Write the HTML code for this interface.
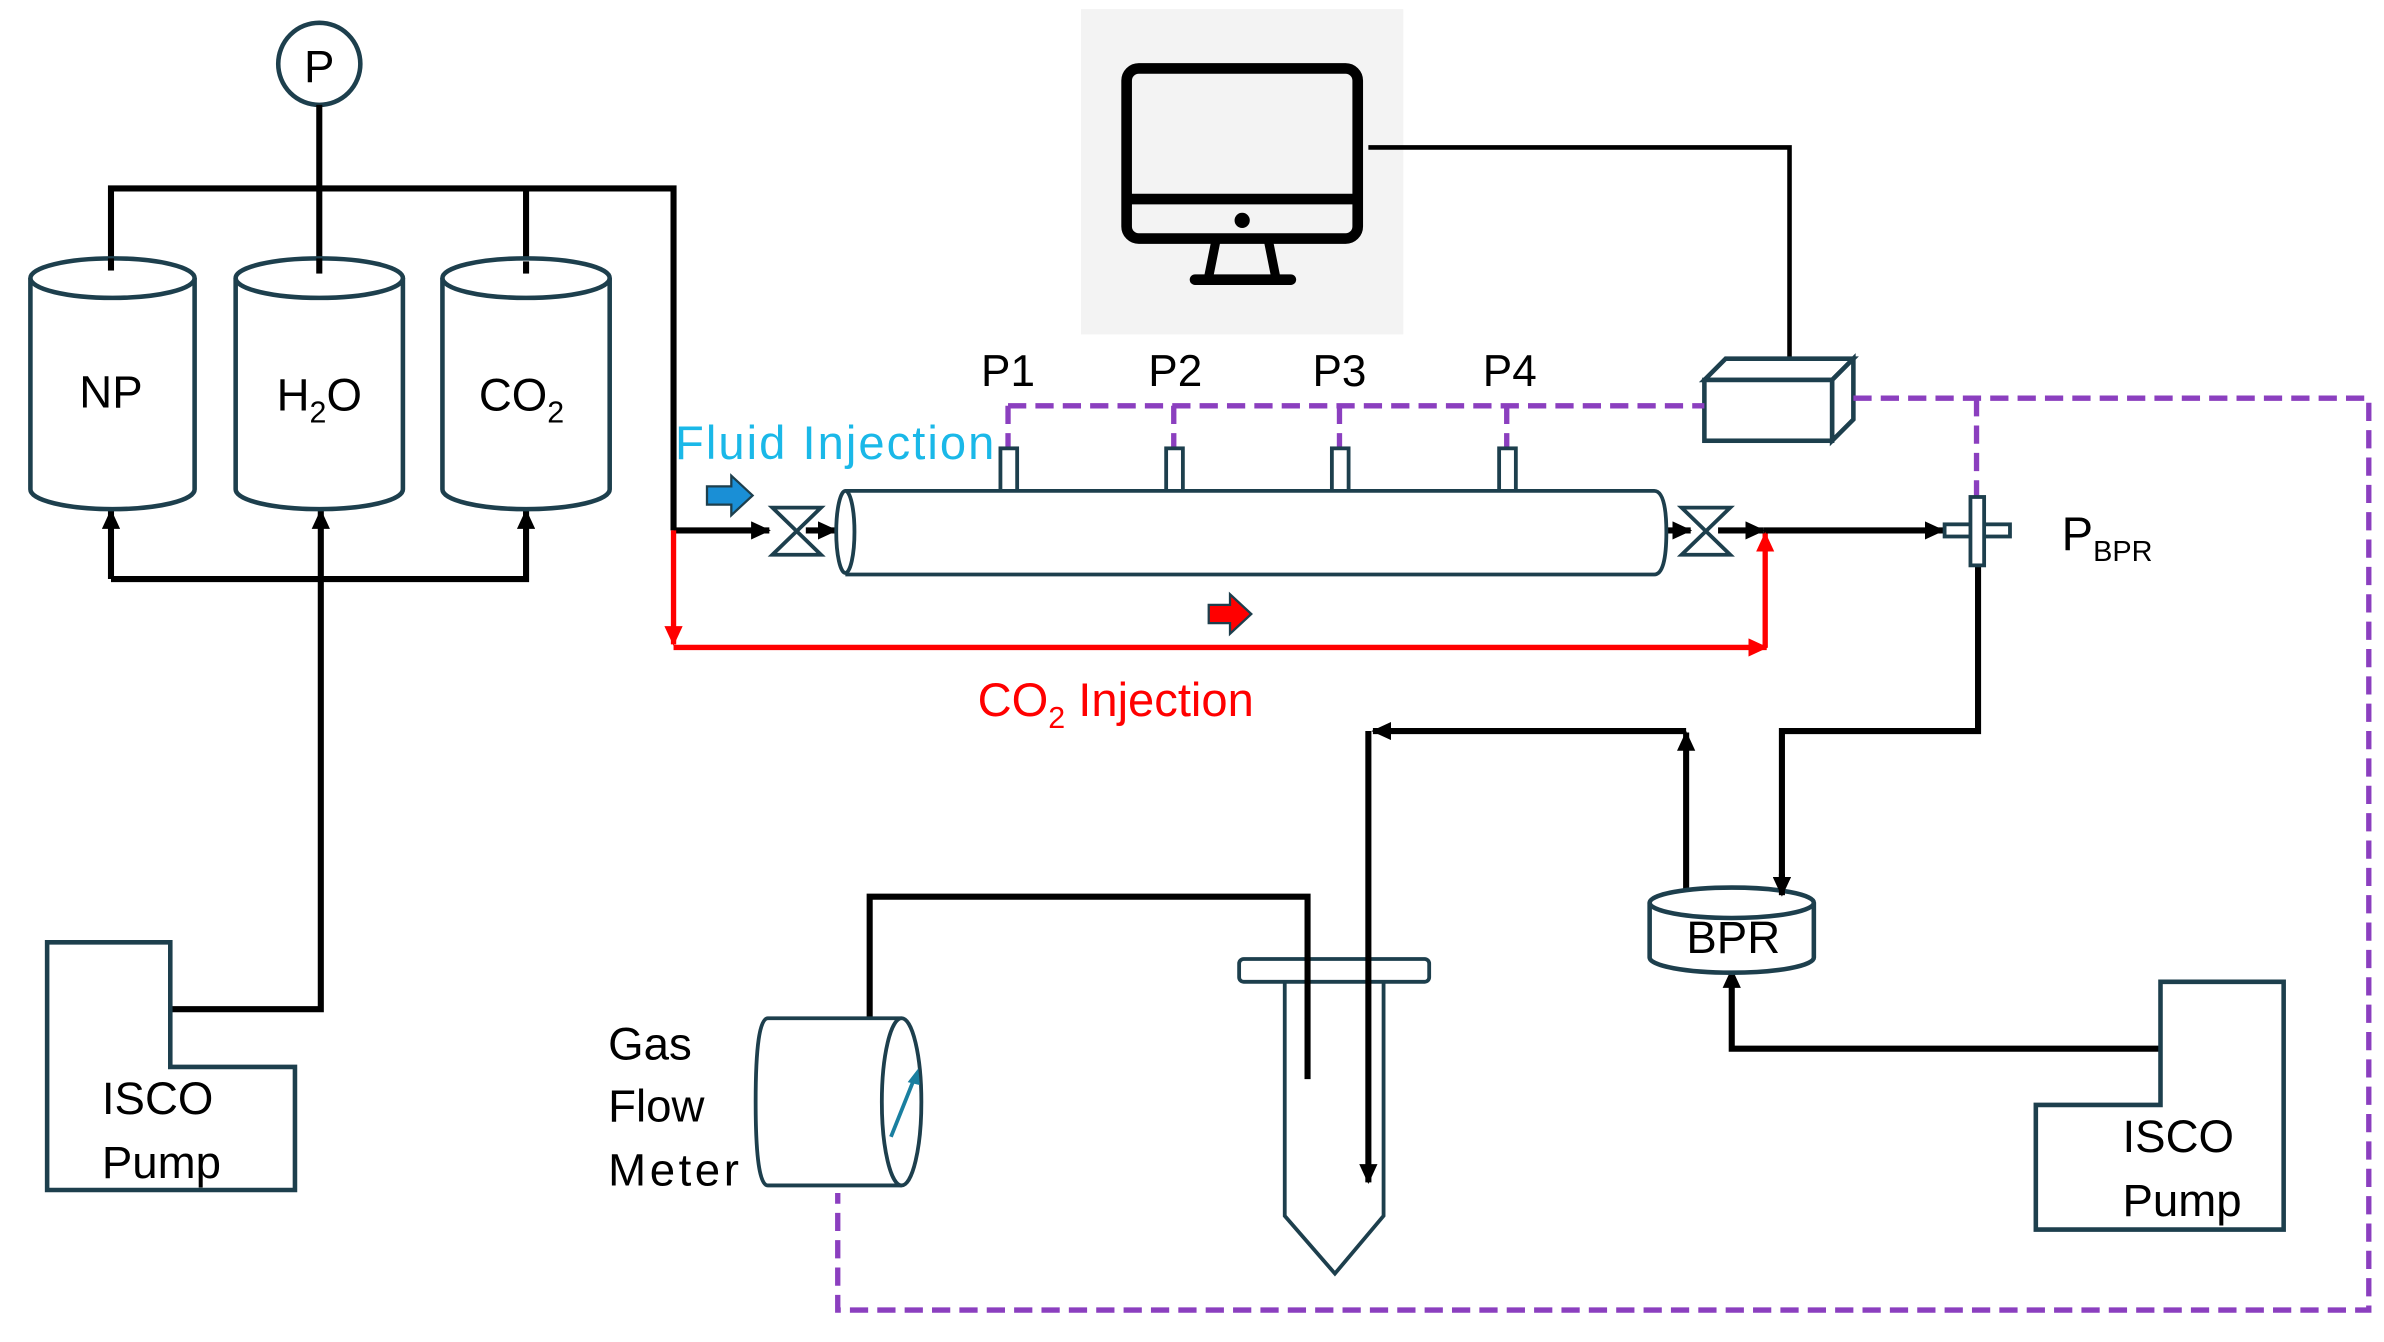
<!DOCTYPE html>
<html><head><meta charset="utf-8"><style>
html,body{margin:0;padding:0;background:#fff;}
svg{display:block;}
text{font-family:"Liberation Sans",sans-serif;}
</style></head><body>
<svg width="2384" height="1342" viewBox="0 0 1568 883" preserveAspectRatio="none" xmlns="http://www.w3.org/2000/svg">
<defs>
<marker id="ab" markerWidth="13" markerHeight="12" refX="12" refY="6" orient="auto" markerUnits="userSpaceOnUse"><path d="M0,0 L13,6 L0,12 z" fill="#000"/></marker>
<marker id="ar" markerWidth="13" markerHeight="12" refX="12" refY="6" orient="auto" markerUnits="userSpaceOnUse"><path d="M0,0 L13,6 L0,12 z" fill="#f00"/></marker>
</defs>
<rect x="711" y="6" width="212" height="214" fill="#f3f3f3"/>
<!-- monitor -->
<rect x="741" y="45" width="152" height="112" rx="8" fill="none" stroke="#000" stroke-width="7"/>
<line x1="741" y1="131" x2="893" y2="131" stroke="#000" stroke-width="7"/>
<circle cx="817" cy="145" r="5" fill="#000"/>
<path d="M800,157 L795,182 M834,157 L839,182" stroke="#000" stroke-width="6"/>
<line x1="786" y1="184" x2="849" y2="184" stroke="#000" stroke-width="7" stroke-linecap="round"/>
<polyline points="900,97 1177,97 1177,236" fill="none" stroke="#000" stroke-width="3"/>
<!-- 3D box -->
<g fill="#fff" stroke="#1d3f4d" stroke-width="3">
<polygon points="1121,250 1135,236 1219,236 1205,250"/>
<polygon points="1205,250 1219,236 1219,276 1205,290"/>
<rect x="1121" y="250" width="84" height="40"/>
</g>
<!-- P gauge -->
<circle cx="210" cy="42" r="27" fill="#fff" stroke="#1d3f4d" stroke-width="3"/>
<text x="210" y="54" font-size="30" text-anchor="middle">P</text>
<!-- test tube (drawn before lines) -->
<g fill="#fff" stroke="#1d3f4d" stroke-width="2.5">
<path d="M845,646 V800 L878,838 L910,800 V646"/>
<rect x="815" y="631" width="125" height="15" rx="3"/>
</g>
<g fill="none" stroke="#000" stroke-width="4">
<line x1="210" y1="69" x2="210" y2="182"/>
<polyline points="73,178 73,124 443,124 443,349"/>
<line x1="346" y1="124" x2="346" y2="180"/>
<line x1="443" y1="349" x2="506" y2="349" marker-end="url(#ab)"/>
<polyline points="73,381 73,336" marker-end="url(#ab)"/>
<polyline points="73,381 346,381 346,336" marker-end="url(#ab)"/>
<polyline points="112,664 211,664 211,336" marker-end="url(#ab)"/>
<line x1="530" y1="349" x2="550" y2="349" marker-end="url(#ab)"/>
<line x1="1094" y1="349" x2="1112" y2="349" marker-end="url(#ab)"/>
<line x1="1130" y1="349" x2="1160" y2="349" marker-end="url(#ab)"/>
<line x1="1160" y1="349" x2="1278" y2="349" marker-end="url(#ab)"/>
<polyline points="1301,372 1301,481 1172,481 1172,589" marker-end="url(#ab)"/>
<polyline points="1109,588 1109,482" marker-end="url(#ab)"/>
<polyline points="1109,481 903,481" marker-end="url(#ab)"/>
<polyline points="900,481 900,778" marker-end="url(#ab)"/>
<polyline points="1421,690 1139,690 1139,638" marker-end="url(#ab)"/>
<polyline points="572,670 572,590 860,590 860,710"/>
</g>
<!-- tanks -->
<g fill="#fff" stroke="#1d3f4d" stroke-width="3">
<path d="M20,183 V322 A54,13 0 0 0 128,322 V183"/>
<ellipse cx="74" cy="183" rx="54" ry="13"/>
<path d="M155,183 V322 A55,13 0 0 0 265,322 V183"/>
<ellipse cx="210" cy="183" rx="55" ry="13"/>
<path d="M291,183 V322 A55,13 0 0 0 401,322 V183"/>
<ellipse cx="346" cy="183" rx="55" ry="13"/>
</g>
<g stroke="#000" stroke-width="4"><line x1="73" y1="170" x2="73" y2="178"/><line x1="346" y1="172" x2="346" y2="180"/><line x1="210" y1="170" x2="210" y2="180"/></g>
<text x="73" y="268" font-size="30" text-anchor="middle">NP</text>
<text x="210" y="270" font-size="30" text-anchor="middle">H<tspan font-size="20" dy="8">2</tspan><tspan dy="-8">O</tspan></text>
<text x="343" y="270" font-size="30" text-anchor="middle">CO<tspan font-size="20" dy="8">2</tspan></text>
<!-- pumps -->
<polygon points="31,620 112,620 112,702 194,702 194,783 31,783" fill="none" stroke="#1d3f4d" stroke-width="3"/>
<text x="67" y="733" font-size="30">ISCO</text><text x="67" y="775" font-size="30">Pump</text>
<polygon points="1421,646 1502,646 1502,809 1339,809 1339,727 1421,727" fill="none" stroke="#1d3f4d" stroke-width="3"/>
<text x="1396" y="758" font-size="30">ISCO</text><text x="1396" y="800" font-size="30">Pump</text>
<!-- purple dashes -->
<g fill="none" stroke="#8b3fbf" stroke-width="3.5" stroke-dasharray="12,6">
<line x1="663" y1="267" x2="1121" y2="267"/>
<line x1="663" y1="267" x2="663" y2="296"/>
<line x1="772" y1="267" x2="772" y2="296"/>
<line x1="881" y1="267" x2="881" y2="296"/>
<line x1="991" y1="267" x2="991" y2="296"/>
<polyline points="1219,262 1558,262 1558,862 551,862 551,785"/>
<line x1="1300" y1="262" x2="1300" y2="327"/>
</g>
<!-- column -->
<g fill="#fff" stroke="#1d3f4d" stroke-width="2.5">
<rect x="658" y="295" width="11" height="28"/><rect x="767" y="295" width="11" height="28"/>
<rect x="876" y="295" width="11" height="28"/><rect x="986" y="295" width="11" height="28"/>
<path d="M556,323 H1088 Q1096,323 1096,350 Q1096,378 1088,378 H556"/>
<ellipse cx="556" cy="350" rx="6" ry="27"/>
<path d="M508,334 L540,334 L508,365 L540,365 Z"/>
<path d="M1106,334 L1138,334 L1106,365 L1138,365 Z"/>
<rect x="1279" y="345" width="43" height="8"/><rect x="1296" y="327" width="9" height="45"/>
</g>
<text x="663" y="254" font-size="29" text-anchor="middle">P1</text>
<text x="773" y="254" font-size="29" text-anchor="middle">P2</text>
<text x="881" y="254" font-size="29" text-anchor="middle">P3</text>
<text x="993" y="254" font-size="29" text-anchor="middle">P4</text>
<text x="1356" y="362" font-size="31">P<tspan font-size="19" dy="7">BPR</tspan></text>
<text x="444" y="302" font-size="31" fill="#1ab8e8" textLength="210">Fluid Injection</text>
<path d="M465,320 H481 V313 L495,326 L481,339 V332 H465 Z" fill="#1a8fd6" stroke="#1d3f4d" stroke-width="1.5"/>
<!-- red path -->
<g fill="none" stroke="#f00" stroke-width="3.5">
<line x1="443" y1="349" x2="443" y2="424" marker-end="url(#ar)"/>
<line x1="443" y1="426" x2="1162" y2="426" marker-end="url(#ar)"/>
<line x1="1161" y1="426" x2="1161" y2="351" marker-end="url(#ar)"/>
</g>
<path d="M795,398 H809 V391 L823,404 L809,417 V410 H795 Z" fill="#f00" stroke="#1d3f4d" stroke-width="1.5"/>
<text x="643" y="471" font-size="31" fill="#f00">CO<tspan font-size="20" dy="8">2</tspan><tspan dy="-8"> Injection</tspan></text>
<!-- BPR -->
<g fill="#fff" stroke="#1d3f4d" stroke-width="3">
<path d="M1085,594 V630 A54,10 0 0 0 1193,630 V594"/>
<ellipse cx="1139" cy="594" rx="54" ry="10"/>
</g>
<line x1="1172" y1="575" x2="1172" y2="589" stroke="#000" stroke-width="4" marker-end="url(#ab)"/>
<text x="1140" y="627" font-size="30" text-anchor="middle">BPR</text>
<!-- flow meter -->
<g fill="#fff" stroke="#1d3f4d" stroke-width="2.5">
<path d="M593,670 H505 Q497,670 497,725 Q497,780 505,780 H593"/>
<ellipse cx="593" cy="725" rx="13" ry="55"/>
</g>
<line x1="586" y1="748" x2="602" y2="708" stroke="#1a7fa0" stroke-width="2.5"/>
<path d="M604,703 L597,712 L605,714 Z" fill="#1a7fa0"/>
<text x="400" y="697" font-size="30">Gas</text>
<text x="400" y="738" font-size="30">Flow</text>
<text x="400" y="780" font-size="30" textLength="86">Meter</text>
</svg>
</body></html>
